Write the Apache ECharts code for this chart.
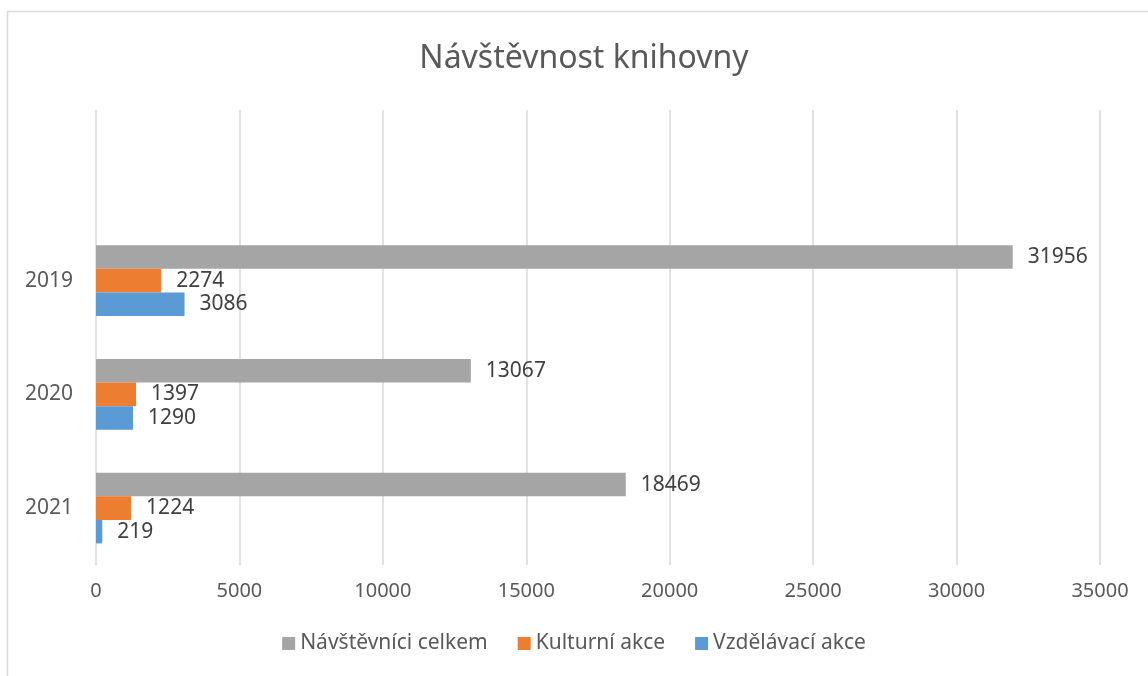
<!DOCTYPE html>
<html>
<head>
<meta charset="utf-8">
<script src="https://cdn.jsdelivr.net/npm/echarts@6/dist/echarts.min.js"></script>
<style>
  html, body { margin: 0; padding: 0; background: #fff; }
  #chart { width: 1148px; height: 676px; }
</style>
</head>
<body>
<div id="chart"></div>
<script>
// kategorie (prázdná první řada je v originálu nahoře)
const years = ["", "2019", "2020", "2021"];
const seriesNames = ["Návštěvníci celkem", "Kulturní akce", "Vzdělávací akce"];
const visitorsTotal = [null, 31956, 13067, 18469];
const culturalEvents = [null, 2274, 1397, 1224];
const educationalEvents = [null, 3086, 1290, 219];
const xTicks = [0, 5000, 10000, 15000, 20000, 25000, 30000, 35000];

const colors = ["#A5A5A5", "#ED7D31", "#5B9BD5"];
const font = "'Noto Sans', 'DejaVu Sans', sans-serif";

let myChart = echarts.init(document.getElementById("chart"));

const labelStyle = {
  show: true,
  position: "right",
  distance: 15,
  color: "#404040",
  fontSize: 21,
  fontFamily: font,
};

let option = {
  animation: false,
  color: colors,
  textStyle: { fontFamily: font },
  title: {
    text: "Návštěvnost knihovny",
    left: 579,
    textAlign: "center",
    top: 38,
    textStyle: { fontSize: 32, fontWeight: "normal", color: "#595959", fontFamily: font },
  },
  graphic: [
    {
      type: "rect",
      shape: { x: 7.5, y: 11.5, width: 1200, height: 700 },
      style: { fill: "none", stroke: "#D9D9D9", lineWidth: 1.5 },
      silent: true,
    },
  ],
  grid: { left: 96, right: 48, top: 110, bottom: 111, containLabel: false },
  legend: {
    bottom: 17,
    left: "center",
    itemWidth: 13,
    itemHeight: 13,
    itemGap: 30,
    icon: "rect",
    textStyle: { fontSize: 21, color: "#595959", fontFamily: font },
    data: seriesNames,
  },
  xAxis: {
    type: "value",
    min: xTicks[0],
    max: xTicks[xTicks.length - 1],
    interval: 5000,
    axisLine: { show: false },
    axisTick: { show: false },
    splitLine: { lineStyle: { color: "#D9D9D9", width: 1.5 } },
    axisLabel: {
      fontSize: 20,
      color: "#595959",
      margin: 16,
      fontFamily: font,
      formatter: (v) => String(v),
    },
  },
  yAxis: {
    type: "category",
    inverse: true,
    data: years,
    axisLine: { show: false },
    axisTick: { show: false },
    axisLabel: { fontSize: 21, color: "#595959", margin: 23, fontFamily: font },
  },
  series: [
    {
      name: seriesNames[0],
      type: "bar",
      data: visitorsTotal,
      barGap: "0%",
      barCategoryGap: "38%",
      label: labelStyle,
    },
    {
      name: seriesNames[1],
      type: "bar",
      data: culturalEvents,
      barGap: "0%",
      barCategoryGap: "38%",
      label: labelStyle,
    },
    {
      name: seriesNames[2],
      type: "bar",
      data: educationalEvents,
      barGap: "0%",
      barCategoryGap: "38%",
      label: labelStyle,
    },
  ],
};

option && myChart.setOption(option);
</script>
</body>
</html>
